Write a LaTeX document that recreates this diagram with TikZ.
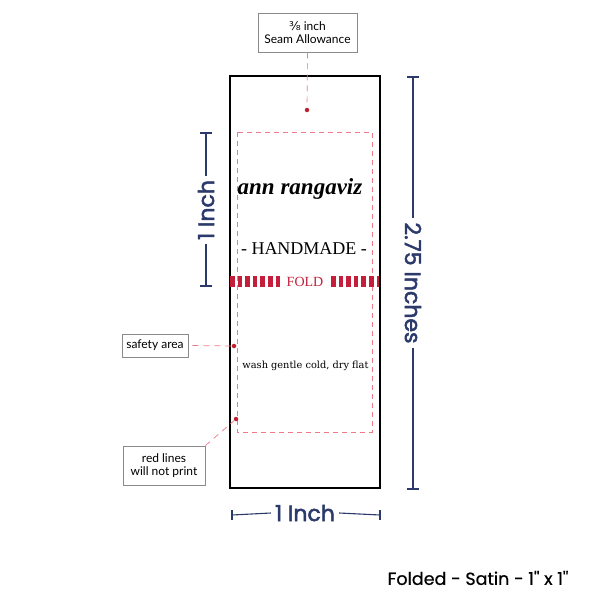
\documentclass[tikz,border=0pt]{standalone}
\usepackage{fontspec}
\setmainfont{Liberation Serif}
\newfontfamily\labelfont{Lato}
\newfontfamily\dimfont[FakeBold=2.2]{Poppins}
\newfontfamily\capfont[FakeBold=0.6]{Poppins}
\newfontfamily\djv{DejaVu Sans}
\newfontfamily\washfont{DejaVu Serif}
\definecolor{navy}{HTML}{2B3A6B}
\definecolor{foldred}{HTML}{C41E3A}
\definecolor{pinkline}{HTML}{EE7B86}
\definecolor{dotred}{HTML}{C0202F}
\definecolor{boxgrey}{HTML}{8A8A8A}
\tikzset{
  safe/.style={draw=pinkline, line width=0.8pt, dash pattern=on 5pt off 4pt},
  lead/.style={draw=pinkline, line width=0.7pt, dash pattern=on 6pt off 5pt},
  dotmark/.style={circle, fill=dotred, inner sep=0pt, minimum size=4.5pt},
  callout/.style={draw=boxgrey, line width=0.8pt, fill=white, font=\labelfont\fontsize{12}{13.5}\selectfont, align=center, inner sep=0pt},
  dimline/.style={draw=navy, line width=1.1pt},
  dimtext/.style={text=navy, font=\dimfont\fontsize{22}{24}\selectfont, inner xsep=4pt, inner ysep=2pt},
  stripe/.style={draw=foldred, line width=11pt, dash pattern=on 4.6pt off 3pt}
}
\begin{document}
\begin{tikzpicture}[x=1pt,y=-1pt]
\useasboundingbox (0,0) rectangle (600,600);
% label outline
\draw[line width=2pt] (229.5,75.5) rectangle (379.5,488);
% safety area
\draw[safe] (237,132) rectangle (372,432);
% fold stripe
\node[text=foldred, font=\fontsize{14}{16}\selectfont, inner sep=0pt] (fold) at (305,282) {FOLD};
\draw[stripe] (230,281) -- (283,281);
\draw[stripe] (331,281) -- (379,281);
% texts
\node[font=\itshape\bfseries\fontsize{23}{26}\selectfont, inner sep=0pt] (brand) at (300,189) {ann rangaviz};
\node[font=\fontsize{18}{20}\selectfont, inner sep=0pt] (hand) at (304,249) {- HANDMADE -};
\node[font=\washfont\fontsize{9.8}{11}\selectfont, inner sep=0pt] (wash) at (305.5,366) {wash gentle cold, dry flat};
% seam allowance callout
\node[callout, minimum width=99pt, minimum height=39pt] (seam) at (307.5,32.5) {{\djv ⅜} inch\\[-1pt]Seam Allowance};
\node[dotmark] (seamdot) at (307,110) {};
\draw[lead] (seam.south) -- (seamdot);
% safety area callout
\node[callout, minimum width=66pt, minimum height=23pt] (safety) at (155,345.5) {safety area};
\node[dotmark] (safedot) at (234,346) {};
\path (safety.east) ++(4pt,0) coordinate (safestart);
\draw[lead] (safestart) -- (safedot);
% red lines callout
\node[callout, minimum width=82pt, minimum height=39pt] (redl) at (164,465.5) {red lines\\[-1pt]will not print};
\node[dotmark] (reddot) at (236,419) {};
\draw[lead] (redl.north east) -- (reddot);
% left dimension 1 Inch
\coordinate (lt) at (206,133);
\coordinate (lb) at (206,286);
\node[dimtext, rotate=90] (ldim) at (206,210) {1 Inch};
\draw[dimline] (lt) -- (ldim.east);
\draw[dimline] (ldim.west) -- (lb);
\draw[dimline] (200,133) -- (212,133);
\draw[dimline] (200,286) -- (212,286);
% right dimension 2.75 Inches
\coordinate (rt) at (413,77);
\coordinate (rb) at (413,489);
\node[dimtext, rotate=-90] (rdim) at (413,283) {2.75 Inches};
\draw[dimline] (rt) -- (rdim.west);
\draw[dimline] (rdim.east) -- (rb);
\draw[dimline] (407,77) -- (419,77);
\draw[dimline] (407,489) -- (419,489);
% bottom dimension 1 Inch
\coordinate (bl) at (232,515);
\coordinate (br) at (380,515);
\node[dimtext] (bdim) at (305,513) {1 Inch};
\draw[dimline] (bl) -- (bdim.west);
\draw[dimline] (bdim.east) -- (br);
\draw[dimline] (232,510) -- (232,520);
\draw[dimline] (380,510) -- (380,520);
% caption
\node[font=\capfont\fontsize{17.5}{19}\selectfont, inner sep=0pt] (caption) at (478,578) {Folded - Satin - 1'' x 1''};
\end{tikzpicture}
\end{document}
